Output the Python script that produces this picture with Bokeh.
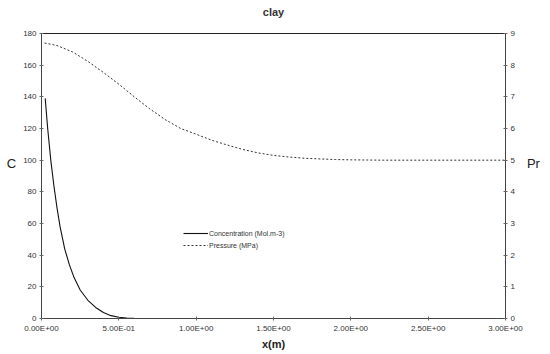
from bokeh.plotting import figure
from bokeh.models import Range1d, LinearAxis, FixedTicker, Legend, LegendItem
from bokeh.embed import file_html
from bokeh.resources import INLINE

# Data
conc_x = [0.024, 0.04, 0.06, 0.08, 0.10, 0.12, 0.15, 0.18, 0.21, 0.25, 0.30, 0.35, 0.40, 0.45, 0.50, 0.55, 0.60, 0.65, 1.0, 1.5, 2.0, 2.5, 3.0]
conc_y = [139, 120, 100, 84, 70, 58, 44, 34, 26, 18, 11.5, 7, 3.8, 1.8, 0.8, 0.3, 0.05, 0, 0, 0, 0, 0, 0]

pres_x = [0.02, 0.1, 0.2, 0.3, 0.4, 0.5, 0.6, 0.7, 0.8, 0.9, 1.0, 1.1, 1.2, 1.3, 1.4, 1.5, 1.6, 1.7, 1.8, 1.9, 2.0, 2.2, 2.5, 3.0]
pres_y = [8.7, 8.62, 8.42, 8.12, 7.77, 7.4, 7.0, 6.62, 6.28, 6.0, 5.82, 5.63, 5.48, 5.34, 5.23, 5.15, 5.10, 5.06, 5.04, 5.02, 5.01, 5.0, 5.0, 5.0]

x_ticks = [0.0, 0.5, 1.0, 1.5, 2.0, 2.5, 3.0]
x_tick_labels = ["0.00E+00", "5.00E-01", "1.00E+00", "1.50E+00", "2.00E+00", "2.50E+00", "3.00E+00"]
c_ticks = [0, 20, 40, 60, 80, 100, 120, 140, 160, 180]
p_ticks = [0, 1, 2, 3, 4, 5, 6, 7, 8, 9]

FONT = "Liberation Sans"

p = figure(width=542, height=352, output_backend="svg", toolbar_location=None,
           x_range=Range1d(0, 3), y_range=Range1d(0, 180),
           min_border_left=41, min_border_right=30, min_border_top=33, min_border_bottom=30)
p.extra_y_ranges = {"p": Range1d(0, 9)}
p.xgrid.visible = False
p.ygrid.visible = False
p.outline_line_color = "#222222"
p.outline_line_width = 1

p.title.text = "clay\n"
p.title.align = "center"
p.title.text_font = FONT
p.title.text_font_size = "11px"
p.title.text_font_style = "bold"
p.title.text_color = "#333333"
p.title.standoff = 7

xa = p.xaxis[0]
xa.ticker = FixedTicker(ticks=x_ticks)
xa.major_label_overrides = {t: l for t, l in zip(x_ticks, x_tick_labels)}
xa.axis_label = "x(m)"
xa.axis_label_standoff = 2

ya = p.yaxis[0]
ya.ticker = FixedTicker(ticks=c_ticks)
ya.axis_label = "C\n"
ya.axis_label_standoff = 4

pa = LinearAxis(y_range_name="p", ticker=FixedTicker(ticks=p_ticks))
p.add_layout(pa, "right")
pa.axis_label = "Pr\n"
pa.axis_label_standoff = 9

for ax in (ya, pa):
    try:
        ax.axis_label_orientation = "horizontal"
    except Exception:
        pass
    ax.axis_label_text_font_size = "13px"
    ax.axis_label_text_font_style = "normal"
    ax.axis_label_text_line_height = 1.7

xa.axis_label_text_font_size = "11px"
xa.axis_label_text_font_style = "bold"

for ax in (xa, ya, pa):
    ax.axis_label_text_font = FONT
    ax.axis_label_text_color = "#222222"
    ax.minor_tick_line_color = None
    ax.major_tick_in = 2
    ax.major_tick_out = 2
    ax.major_label_text_font = FONT
    ax.major_label_text_font_size = "8px"
    ax.major_label_text_color = "#333333"
    ax.axis_line_color = "#444444"
    ax.major_tick_line_color = "#666666"
    ax.major_label_standoff = 3

r1 = p.line(conc_x, conc_y, line_color="#111111", line_width=1.1)
r2 = p.line(pres_x, pres_y, y_range_name="p", line_color="#333333", line_width=1, line_dash="2 2")

leg = Legend(items=[LegendItem(label="Concentration (Mol.m-3)", renderers=[r1]),
                    LegendItem(label="Pressure (MPa)", renderers=[r2])],
             location=(142, 68), background_fill_alpha=0, border_line_color=None,
             label_text_font=FONT, label_text_font_size="7px", label_text_color="#333333",
             glyph_width=25, glyph_height=10, label_height=10, spacing=2, padding=0, margin=0,
             label_standoff=1)
p.add_layout(leg, "center")

open("out.html", "w").write(file_html(p, INLINE))
